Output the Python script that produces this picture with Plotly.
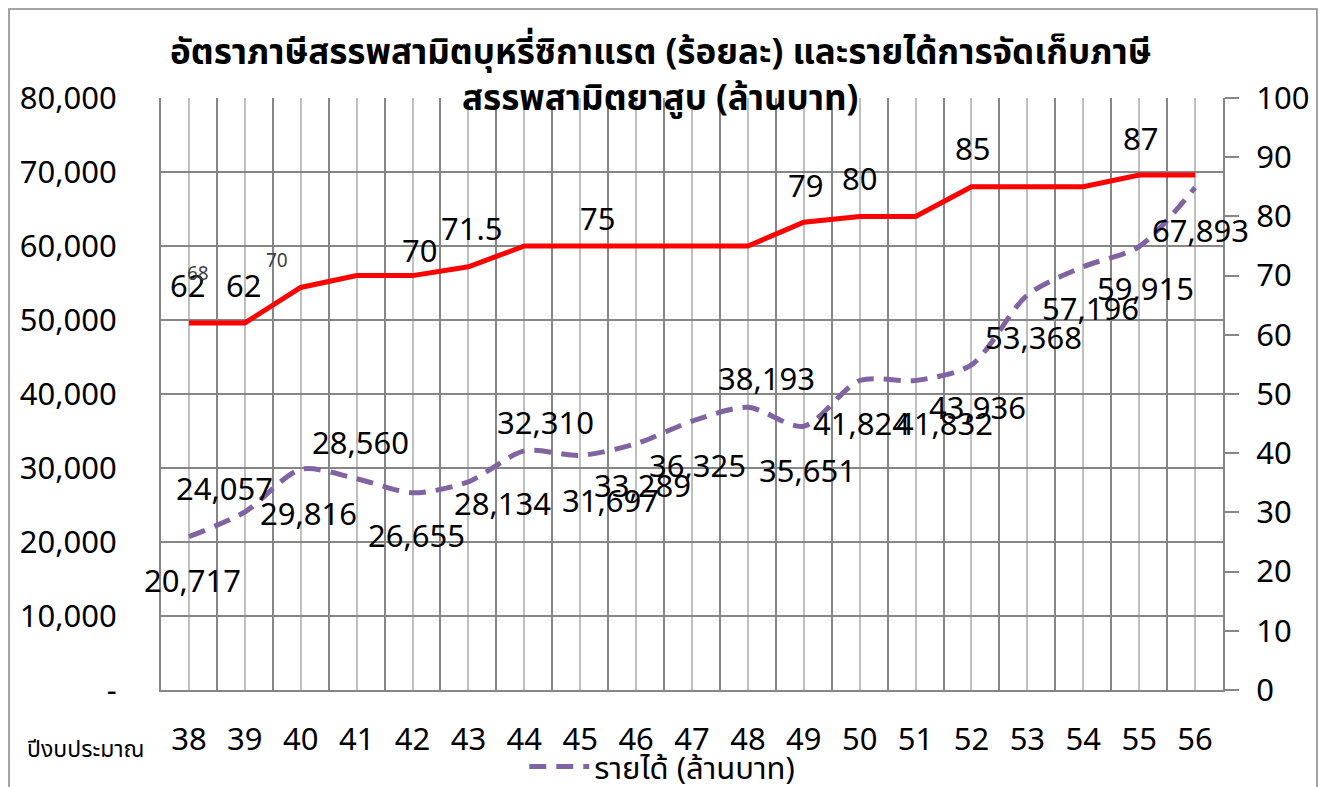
import plotly.graph_objects as go

# ---------------- data ----------------
years = [38, 39, 40, 41, 42, 43, 44, 45, 46, 47, 48, 49, 50, 51, 52, 53, 54, 55, 56]
year_labels = [str(y) for y in years]
revenue = [20717, 24057, 29816, 28560, 26655, 28134, 32310, 31697, 33289, 36325,
           38193, 35651, 41824, 41832, 43936, 53368, 57196, 59915, 67893]
rate = [62, 62, 68, 70, 70, 71.5, 75, 75, 75, 75, 75, 79, 80, 80, 85, 85, 85, 87, 87]
left_ticks = [0, 10000, 20000, 30000, 40000, 50000, 60000, 70000, 80000]
left_ticktext = ["-", "10,000", "20,000", "30,000", "40,000", "50,000", "60,000", "70,000", "80,000"]
right_ticks = [0, 10, 20, 30, 40, 50, 60, 70, 80, 90, 100]

title_line1 = "อัตราภาษีสรรพสามิตบุหรี่ซิกาแรต (ร้อยละ) และรายได้การจัดเก็บภาษี"
title_line2 = "สรรพสามิตยาสูบ (ล้านบาท)"
revenue_name = "รายได้ (ล้านบาท)"
rate_name = "อัตราภาษี (ร้อยละ)"
xaxis_name = "ปีงบประมาณ"

# label placement (pixel offsets, dy positive = downward) -- styling only
rev_offsets = [(4, 43), (-20, -24), (8, 44), (4, -37), (4, 42), (34, 21), (21, -29),
               (30, 45), (6, 41), (5, 44), (19, -29), (4, 44), (2, 42), (29, 43),
               (6, 42), (6, 42), (7, 41), (6, 41), (5, 42)]
rate_label_idx = [0, 1, 2, 3, 4, 5, 7, 11, 12, 14, 17]
rate_offsets = [(-1, -38), (-1, -38), (-103, -14), (-80, -16), (7, -26), (4, -39),
                (17, -28), (2, -37), (0, -38), (1, -39), (1, -37)]
rate_small = [False, False, True, True, False, False, False, False, False, False, False]

FONT = "Noto Sans, Noto Sans Thai, Open Sans, sans-serif"
GRID_DARK = "#868686"
GRID_LIGHT = "#BFBFBF"
PURPLE = "#8064A2"

fig = go.Figure()
fig.add_trace(go.Scatter(
    x=years, y=revenue, name=revenue_name, mode="lines",
    line=dict(color=PURPLE, width=5, dash="17px,10px", shape="spline", smoothing=0.8),
    yaxis="y", showlegend=True,
))
fig.add_trace(go.Scatter(
    x=years, y=rate, name=rate_name, mode="lines",
    line=dict(color="#FF0000", width=5),
    yaxis="y2", showlegend=False,
))

annotations = []
for i, v in enumerate(revenue):
    dx, dy = rev_offsets[i]
    annotations.append(dict(
        x=years[i], y=v, xref="x", yref="y", text=f"{v:,}", showarrow=False,
        xshift=dx, yshift=-dy, font=dict(family=FONT, size=31, color="#000000"),
    ))
for k, i in enumerate(rate_label_idx):
    dx, dy = rate_offsets[k]
    v = rate[i]
    txt = f"{v:g}"
    small = rate_small[k]
    annotations.append(dict(
        x=years[i], y=v, xref="x", yref="y2", text=txt, showarrow=False,
        xshift=dx, yshift=-dy,
        font=dict(family=FONT, size=19 if small else 31,
                  color="#404040" if small else "#000000"),
    ))

# title lines
annotations.append(dict(
    x=0.47, y=1.081, xref="paper", yref="paper", text=f"<b>{title_line1}</b>",
    showarrow=False, xanchor="center", yanchor="middle",
    font=dict(family=FONT, size=35, color="#000000"),
))
annotations.append(dict(
    x=0.47, y=1.003, xref="paper", yref="paper", text=f"<b>{title_line2}</b>",
    showarrow=False, xanchor="center", yanchor="middle",
    font=dict(family=FONT, size=35, color="#000000"),
))
# x-axis caption
annotations.append(dict(
    x=-0.128, y=-0.098, xref="paper", yref="paper", text=xaxis_name,
    showarrow=False, xanchor="left", yanchor="middle",
    font=dict(family=FONT, size=23, color="#000000"),
))

fig.update_layout(
    width=1330, height=787,
    margin=dict(l=153, r=115, t=90, b=105, autoexpand=False),
    paper_bgcolor="#FFFFFF", plot_bgcolor="#FFFFFF",
    font=dict(family=FONT, size=31, color="#000000"),
    showlegend=True,
    legend=dict(
        orientation="h", x=0.472, y=-0.13, xanchor="center", yanchor="middle",
        font=dict(family=FONT, size=31, color="#000000"), itemwidth=60,
        bgcolor="rgba(0,0,0,0)",
    ),
    annotations=annotations,
    xaxis=dict(
        range=[37.5, 56.5], tickvals=years, ticktext=year_labels,
        showgrid=True, gridcolor=GRID_LIGHT, gridwidth=2,
        minor=dict(tick0=37.5, dtick=1, showgrid=True, gridcolor=GRID_DARK, gridwidth=2),
        showline=True, linecolor=GRID_DARK, linewidth=2,
        ticks="", ticklabelstandoff=21, zeroline=False, automargin=False,
        tickfont=dict(family=FONT, size=31, color="#000000"),
    ),
    yaxis=dict(
        range=[0, 80000], tickvals=left_ticks, ticktext=left_ticktext,
        showgrid=True, gridcolor=GRID_DARK, gridwidth=2,
        showline=True, linecolor=GRID_DARK, linewidth=2,
        ticks="", ticklabelstandoff=36, zeroline=False, automargin=False,
        tickfont=dict(family=FONT, size=31, color="#000000"),
    ),
    yaxis2=dict(
        range=[0, 100], tickvals=right_ticks, overlaying="y", side="right",
        showgrid=False, showline=True, linecolor=GRID_DARK, linewidth=2,
        ticks="outside", ticklen=14, tickwidth=2, tickcolor=GRID_DARK,
        ticklabelstandoff=11, zeroline=False, automargin=False,
        tickfont=dict(family=FONT, size=31, color="#000000"),
    ),
    shapes=[dict(
        type="rect", xref="paper", yref="paper",
        x0=-0.1431, x1=1.0885, y0=-0.2, y1=1.1503,
        line=dict(color=GRID_DARK, width=1.5), fillcolor="rgba(0,0,0,0)", layer="below",
    )],
)

fig.write_html("out.html")
